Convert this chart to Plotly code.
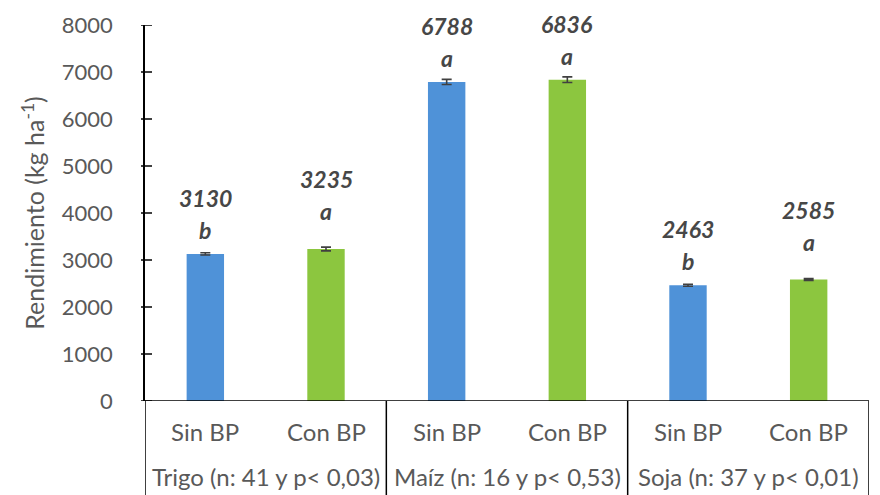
import plotly.graph_objects as go

# Rendimiento por cultivo, con y sin buenas prácticas (BP)
crops = ["Trigo (n: 41 y p< 0,03)", "Maíz (n: 16 y p< 0,53)", "Soja (n: 37 y p< 0,01)"]
treatments = ["Sin BP", "Con BP"]
yield_sin = [3130, 6788, 2463]
yield_con = [3235, 6836, 2585]
err_sin = [25, 55, 20]
err_con = [40, 60, 18]
letters_sin = ["b", "a", "b"]
letters_con = ["a", "a", "a"]
y_ticks = [0, 1000, 2000, 3000, 4000, 5000, 6000, 7000, 8000]

BLUE = "#4F92D8"
GREEN = "#8CC63F"
TXT = "#595959"
LBL = "#474747"
FONT = "Lato, sans-serif"

n = len(crops)
x_sin = [2 * i for i in range(n)]
x_con = [2 * i + 1 for i in range(n)]

fig = go.Figure()
for xs, ys, es, col in [(x_sin, yield_sin, err_sin, BLUE), (x_con, yield_con, err_con, GREEN)]:
    fig.add_trace(go.Bar(
        x=xs, y=ys, width=0.31, marker=dict(color=col, line=dict(width=0)),
        error_y=dict(type="data", array=es, visible=True, color="#404040", thickness=1.6, width=5),
        showlegend=False, hoverinfo="skip",
    ))

annotations = []
# value and significance letter above each bar
lift_con = [14, 0, 14]
for i in range(n):
    for x, v, letter, lift in [(x_sin[i], yield_sin[i], letters_sin[i], 0),
                               (x_con[i], yield_con[i], letters_con[i], lift_con[i])]:
        annotations.append(dict(x=x, y=v, xref="x", yref="y", text=f"<b><i>{v}</i></b>",
                                showarrow=False, yanchor="middle", yshift=56 + lift,
                                font=dict(family=FONT, size=23, color=LBL)))
        annotations.append(dict(x=x, y=v, xref="x", yref="y", text=f"<b><i>{letter}</i></b>",
                                showarrow=False, yanchor="middle", yshift=24 + lift,
                                font=dict(family=FONT, size=23, color=LBL)))

# multi-level category labels
for i in range(n):
    for j, t in enumerate(treatments):
        annotations.append(dict(x=2 * i + j, y=-0.082, xref="x", yref="paper", text=t,
                                showarrow=False, yanchor="middle",
                                font=dict(family=FONT, size=24, color=TXT)))
    annotations.append(dict(x=2 * i + 0.5, y=-0.2, xref="x", yref="paper", text=crops[i],
                            showarrow=False, yanchor="middle",
                            font=dict(family=FONT, size=24, color=TXT)))

annotations.append(dict(x=-0.155, y=0.5, xref="paper", yref="paper",
                        text="Rendimiento (kg ha<sup>-1</sup>)", textangle=-90,
                        showarrow=False, xanchor="center", yanchor="middle",
                        font=dict(family=FONT, size=25, color=TXT)))

shapes = []
# category box below the plot
shapes.append(dict(type="line", xref="paper", yref="y", x0=0, x1=1, y0=0, y1=0,
                   line=dict(color="black", width=1.5)))
for xb in [-0.5, 1.5, 3.5, 5.5]:
    shapes.append(dict(type="line", xref="x", yref="paper", x0=xb, x1=xb, y0=0, y1=-0.3,
                       line=dict(color="black", width=1.5)))
# y tick marks crossing the axis
for t in y_ticks:
    shapes.append(dict(type="line", xref="paper", yref="y", xsizemode="pixel", xanchor=0,
                       x0=-4, x1=7, y0=t, y1=t, line=dict(color="black", width=1.5)))

fig.update_layout(
    width=880, height=495,
    margin=dict(l=145, r=11, t=23, b=94),
    paper_bgcolor="white", plot_bgcolor="white",
    xaxis=dict(range=[-0.5, 5.5], showticklabels=False, ticks="", showgrid=False,
               zeroline=False, showline=False),
    yaxis=dict(range=[0, 8000], tickvals=y_ticks, showgrid=False, zeroline=False,
               showline=True, linecolor="black", linewidth=1.5, ticks="",
               ticklabelstandoff=26,
               tickfont=dict(family=FONT, size=22, color=TXT)),
    annotations=annotations, shapes=shapes,
)

fig.write_html("out.html")
